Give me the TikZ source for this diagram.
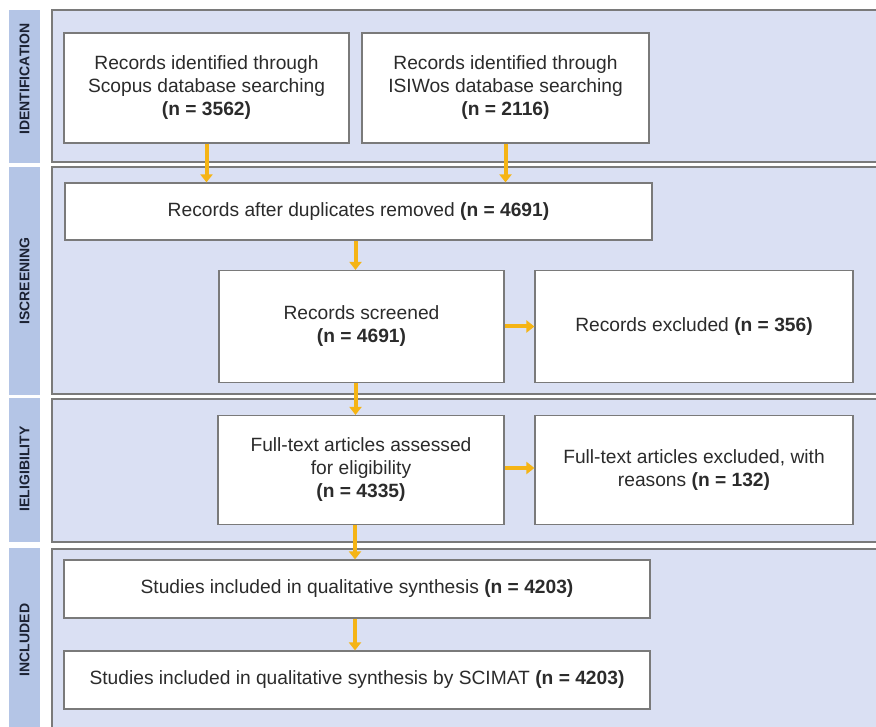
\documentclass[tikz,border=0pt]{standalone}
\usepackage{fontspec}
\setmainfont{Liberation Sans}
\usetikzlibrary{arrows.meta}
\definecolor{panelfill}{HTML}{DAE0F3}
\definecolor{barfill}{HTML}{B4C5E6}
\definecolor{edgec}{HTML}{7A7A7A}
\definecolor{arrowc}{HTML}{F5B414}
\definecolor{txt}{HTML}{2B2B2B}
\definecolor{labtxt}{HTML}{1C2233}
\begin{document}
\begin{tikzpicture}[x=1pt,y=-1pt,
  panel/.style={draw=edgec, line width=1.5pt, fill=panelfill},
  bar/.style={fill=barfill},
  box/.style={draw=edgec, line width=1.2pt, fill=white, align=center, inner sep=2pt,
    font=\fontsize{19.2}{23}\selectfont, text=txt},
  flow/.style={draw=arrowc, line width=4pt, -{Triangle[width=12pt,length=8pt]}},
  lab/.style={rotate=90, font=\fontsize{14}{15}\selectfont\bfseries, text=labtxt}]
\clip (0,0) rectangle (876,727);
\fill[white] (0,0) rectangle (876,727);
% side bars
\fill[bar] (9,10) rectangle (40,163);
\fill[bar] (9,167) rectangle (40,395);
\fill[bar] (9,398) rectangle (40,542);
\fill[bar] (9,548) rectangle (40,740);
\node[lab] (lid) at (24.5,79) {IDENTIFICATION};
\node[lab] (lsc) at (24.5,281) {ISCREENING};
\node[lab] (lel) at (24.5,469) {IELIGIBILITY};
\node[lab] (lin) at (24.5,640) {INCLUDED};
% panels
\filldraw[panel] (52,10) rectangle (895,162);
\filldraw[panel] (52,167) rectangle (895,394);
\filldraw[panel] (52,399) rectangle (895,542);
\filldraw[panel] (52,549) rectangle (895,745);
% boxes
\node[box, minimum width=285, minimum height=110] (scopus) at (206.5,88)
  {Records identified through\\Scopus database searching\\\textbf{(n = 3562)}};
\node[box, minimum width=287, minimum height=110] (isi) at (505.5,88)
  {Records identified through\\ISIWos database searching\\\textbf{(n = 2116)}};
\node[box, minimum width=587, minimum height=57] (dup) at (358.5,211.5)
  {Records after duplicates removed \textbf{(n = 4691)}};
\node[box, minimum width=285, minimum height=112] (scr) at (361.5,326.5)
  {Records screened\\\textbf{(n = 4691)}};
\node[box, minimum width=318, minimum height=112] (exc) at (694,326.5)
  {Records excluded \textbf{(n = 356)}};
\node[box, minimum width=286, minimum height=109] (full) at (361,470)
  {Full-text articles assessed\\for eligibility\\\textbf{(n = 4335)}};
\node[box, minimum width=318, minimum height=109] (fexc) at (694,470)
  {Full-text articles excluded, with\\reasons \textbf{(n = 132)}};
\node[box, minimum width=586, minimum height=58] (stud) at (357,589)
  {Studies included in qualitative synthesis \textbf{(n = 4203)}};
\node[box, minimum width=586, minimum height=58] (scim) at (357,680)
  {Studies included in qualitative synthesis by SCIMAT \textbf{(n = 4203)}};
% arrows
\draw[flow] (scopus.south) -- (scopus.south |- dup.north);
\draw[flow] (isi.south) -- (isi.south |- dup.north);
\draw[flow] ([xshift=-6pt]scr.north |- dup.south) -- ([xshift=-6pt]scr.north);
\draw[flow] (scr.east) -- (exc.west);
\draw[flow] ([yshift=2pt]full.east) -- ([yshift=2pt]fexc.west);
\draw[flow] ([xshift=-6pt]scr.south) -- ([xshift=-6pt]scr.south |- full.north);
\draw[flow] ([xshift=-6pt]full.south) -- ([xshift=-6pt]full.south |- stud.north);
\draw[flow] ([xshift=-6pt]full.south |- stud.south) -- ([xshift=-6pt]full.south |- scim.north);
\end{tikzpicture}
\end{document}
